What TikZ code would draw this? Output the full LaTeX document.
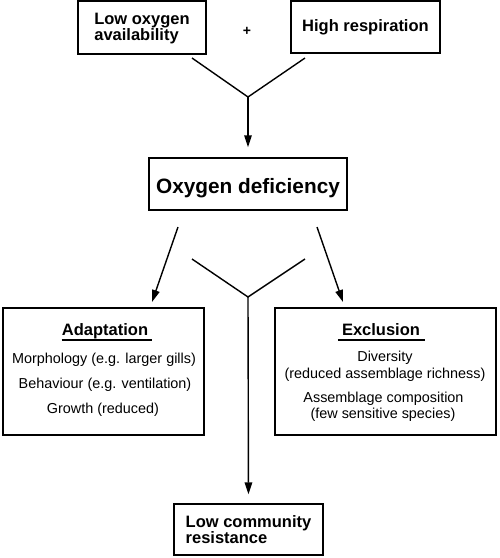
\documentclass[tikz,border=0pt]{standalone}
\usepackage{fontspec}
\setmainfont{Liberation Sans}
\usetikzlibrary{arrows.meta,calc}
\begin{document}
\begin{tikzpicture}[x=1pt,y=-1pt,
  box/.style={draw, line width=1.4pt, inner sep=0pt},
  ttl/.style={font=\fontsize{16.5}{16.5}\selectfont\bfseries, align=left},
  body/.style={font=\fontsize{14.4}{16}\selectfont, anchor=base, inner sep=0pt},
  conn/.style={line width=1.4pt},
  arr/.style={conn, -{Triangle[length=12pt,width=7.5pt]}},
  uline/.style={line width=1.2pt}
]
\useasboundingbox (0,0) rectangle (500,558);
% boxes
\node[box, minimum width=128pt, minimum height=53pt, ttl, text depth=1pt] (low) at (142,27.5) {Low oxygen\\availability};
\node[box, minimum width=149pt, minimum height=52pt, ttl] (high) at (365.5,27) {High respiration};
\node[font=\fontsize{14}{14}\selectfont\bfseries] (plus) at (247,31) {+};
\node[box, minimum width=198pt, minimum height=52pt, text height=18pt, text depth=0pt, font=\fontsize{20.8}{20.8}\selectfont\bfseries] (def) at (248,184) {Oxygen deficiency};
\node[box, minimum width=201pt, minimum height=127pt] (adapt) at (103.5,371.5) {};
\node[box, minimum width=221pt, minimum height=127pt] (excl) at (385.5,371.5) {};
\node[box, minimum width=149pt, minimum height=51pt, ttl] (res) at (248.5,529.5) {Low community\\resistance};
% adaptation contents
\node[ttl, anchor=base, inner sep=0pt] (adt) at (105,335) {Adaptation};
\draw[uline] ($(adt.base west)+(0,5)$) -- ($(adt.base east)+(4,5)$);
\node[body] (m1) at (104,363) {Morphology (e.g. larger gills)};
\node[body] (m2) at (105,388) {Behaviour (e.g. ventilation)};
\node[body] (m3) at (103,413.5) {Growth (reduced)};
% exclusion contents
\node[ttl, anchor=base, inner sep=0pt] (ext) at (381,335) {Exclusion};
\draw[uline] ($(ext.base west)+(-4,5)$) -- ($(ext.base east)+(5,5)$);
\node[body] (e1) at (385,361.5) {Diversity};
\node[body] (e2) at (385,378.5) {(reduced assemblage richness)};
\node[body] (e3) at (383.5,402.5) {Assemblage composition};
\node[body] (e4) at (383,418.5) {(few sensitive species)};
% connectors
\coordinate (t1) at (192,58);
\coordinate (t2) at (305,58);
\coordinate (j1) at (248,97);
\draw[conn, line join=miter] (t1) -- (j1) -- (t2);
\draw[arr, shorten >=10pt] (j1) -- (def.north);
\coordinate (l1) at (178,227);
\coordinate (l2) at (152,302);
\coordinate (r1) at (317,227);
\coordinate (r2) at (343,302);
\draw[arr] (l1) -- (l2);
\draw[arr] (r1) -- (r2);
\coordinate (m1a) at (192,259);
\coordinate (m2a) at (305,259);
\coordinate (j2) at (248,297);
\draw[conn, line join=miter] (m1a) -- (j2) -- (m2a);
\draw[arr, shorten >=9pt] (j2) -- (res.north);
\end{tikzpicture}
\end{document}
